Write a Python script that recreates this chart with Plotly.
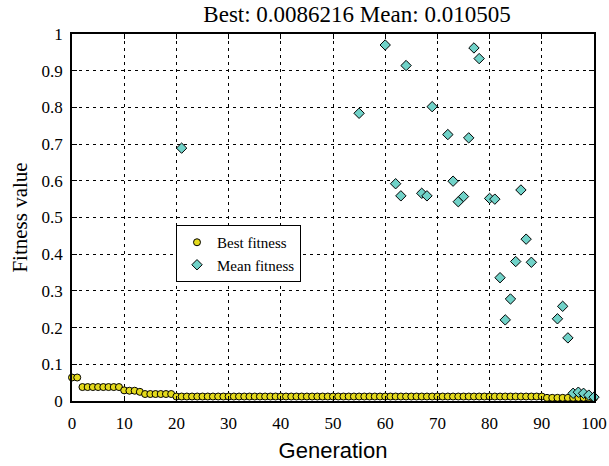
import plotly.graph_objects as go

# Best fitness per generation (0..100)
best_gen = list(range(0, 101))
best_fit = ([0.064, 0.064]
            + [0.038] * 8
            + [0.029, 0.028, 0.028, 0.025]
            + [0.019] * 6
            + [0.0122] * 71
            + [0.0086] * 10)

# Mean fitness for generations whose mean falls inside [0, 1]
mean_gen = [21, 55, 60, 62, 63, 64, 67, 68, 69, 72, 73, 74, 75, 76, 77, 78,
            80, 81, 82, 83, 84, 85, 86, 87, 88, 93, 94, 95, 96, 97, 98, 99, 100]
mean_fit = [0.689, 0.784, 0.970, 0.592, 0.559, 0.914, 0.566, 0.559, 0.802,
            0.726, 0.599, 0.543, 0.557, 0.717, 0.962, 0.933, 0.552, 0.550,
            0.336, 0.221, 0.278, 0.380, 0.575, 0.441, 0.378, 0.224, 0.258,
            0.172, 0.021, 0.024, 0.021, 0.016, 0.010505]

x_ticks = list(range(0, 101, 10))
y_ticks = [0, 0.1, 0.2, 0.3, 0.4, 0.5, 0.6, 0.7, 0.8, 0.9, 1]
y_tick_text = ["0", "0.1", "0.2", "0.3", "0.4", "0.5", "0.6", "0.7", "0.8", "0.9", "1"]

serif = "Liberation Serif, Times New Roman, serif"
sans = "Liberation Sans, Arial, sans-serif"

fig = go.Figure()
fig.add_trace(go.Scatter(
    x=best_gen, y=best_fit, mode="markers", name="Best fitness",
    marker=dict(symbol="circle", size=7, color="rgb(228,218,28)",
                line=dict(color="black", width=1)),
    cliponaxis=False,
))
fig.add_trace(go.Scatter(
    x=mean_gen, y=mean_fit, mode="markers", name="Mean fitness",
    marker=dict(symbol="diamond", size=8, color="rgb(112,210,200)",
                line=dict(color="black", width=1)),
    cliponaxis=False,
))

axis_common = dict(
    showline=True, linecolor="black", linewidth=1.5, mirror="ticks",
    ticks="inside", ticklen=5, tickcolor="black",
    showgrid=True, gridcolor="black", gridwidth=1, griddash="3px,4px",
    zeroline=False, automargin=False,
    tickfont=dict(family=serif, size=17, color="black"),
)

fig.update_layout(
    width=609, height=466,
    margin=dict(l=72, r=15, t=34, b=65),
    paper_bgcolor="white", plot_bgcolor="white",
    title=dict(text="Best: 0.0086216 Mean: 0.010505",
               font=dict(family=serif, size=23, color="black"),
               x=357 / 609, xanchor="center",
               y=1 - 14 / 466, yanchor="middle"),
    xaxis=dict(range=[0, 100], tickvals=x_ticks, ticklabelstandoff=6,
               title=dict(text="Generation",
                          font=dict(family=sans, size=22, color="black"),
                          standoff=10),
               **axis_common),
    yaxis=dict(range=[0, 1], tickvals=y_ticks, ticktext=y_tick_text,
               ticklabelstandoff=4,
               title=dict(text="Fitness value",
                          font=dict(family=serif, size=21, color="black"),
                          standoff=8),
               **axis_common),
    legend=dict(x=(176 - 72) / 522, y=(401 - 225) / 367,
                xanchor="left", yanchor="top",
                bgcolor="white", bordercolor="black", borderwidth=1,
                font=dict(family=serif, size=15, color="black"),
                itemsizing="trace", tracegroupgap=0),
    showlegend=True,
)

fig.write_html("out.html")
